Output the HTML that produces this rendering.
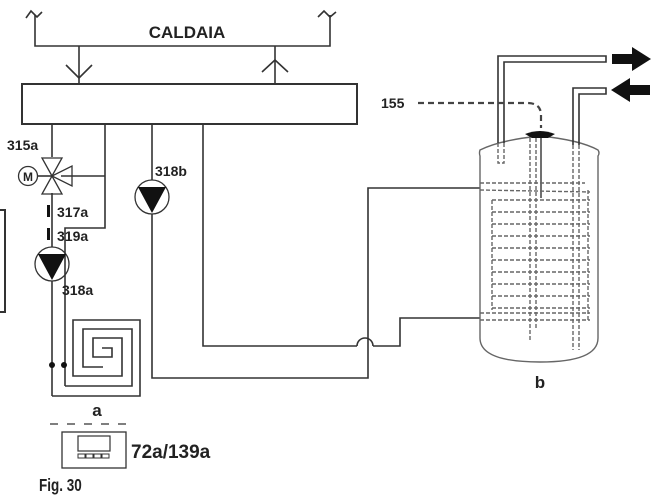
<!DOCTYPE html>
<html><head><meta charset="utf-8"><style>
html,body{margin:0;padding:0;background:#fff;}
svg{display:block;}
text{font-family:"Liberation Sans",sans-serif;font-weight:bold;fill:#222;}
</style></head><body>
<svg width="662" height="498" viewBox="0 0 662 498" xmlns="http://www.w3.org/2000/svg">
<g fill="none" stroke="#333" stroke-width="1.6">
<polyline points="26,18 31,11 37,17 42,12"/>
<polyline points="318,17 324,11 330,17 336,12"/>
<polyline points="35,15 35,46 330,46 330,15"/>
<line x1="79" y1="46" x2="79" y2="84"/>
<polyline points="66,65 79,78 92,65"/>
<line x1="275" y1="46" x2="275" y2="84"/>
<polyline points="262,72 275,60 288,72"/>
<rect x="22" y="84" width="335" height="40" stroke-width="2"/>
<line x1="52" y1="124" x2="52" y2="157"/>
<line x1="52" y1="193" x2="52" y2="247"/>
<line x1="52" y1="281" x2="52" y2="396"/>
<polyline points="105,124 105,228 65,228 65,386"/>
<line x1="61" y1="176" x2="105" y2="176"/>
<polyline points="52,396 140,396 140,320 73,320 73,376 122,376 122,338 93,338 93,357 112,357 112,348 102,348"/>
<polyline points="65,386 132,386 132,329 83,329 83,367 103,367"/>
<polygon points="42,158 62,158 52,176" stroke-width="1.3"/>
<polygon points="42,194 62,194 52,176" stroke-width="1.3"/>
<polygon points="72,166 72,186 52,176" stroke-width="1.3"/>
<circle cx="28" cy="176" r="9.5" stroke-width="1.3"/>
<line x1="37.5" y1="176" x2="52" y2="176"/>
<circle cx="52" cy="264" r="17" stroke-width="1.3"/>
<circle cx="152" cy="197" r="17" stroke-width="1.3"/>
<line x1="152" y1="124" x2="152" y2="180"/>
<polyline points="152,214 152,378 368,378 368,188 480,188"/>
<polyline points="203,124 203,346 357,346"/>
<path d="M357,346 A8,8 0 0 1 373,346"/>
<polyline points="373,346 400,346 400,318 480,318"/>
<polyline points="0,210 5,210 5,312 0,312" stroke-width="2"/>
<path d="M480,150 Q500,140 540,136 Q580,140 598,150 Q600,153 598,156 L598,338 Q598,362 540,362 Q480,362 480,338 L480,156 Q479,153 480,150 Z" stroke="#666" stroke-width="1.4"/>
<polyline points="498,143 498,56 606,56 606,62 504,62 504,143"/>
<polyline points="573,145 573,88 606,88 606,94 579,94 579,145"/>
<rect x="62" y="432" width="64" height="36" stroke-width="1.3"/>
<rect x="78" y="436" width="32" height="15" stroke-width="1.2"/>
<rect x="78" y="454" width="7" height="4" stroke-width="1"/>
<rect x="86" y="454" width="7" height="4" stroke-width="1"/>
<rect x="94" y="454" width="7" height="4" stroke-width="1"/>
<rect x="102" y="454" width="7" height="4" stroke-width="1"/>
</g>
<g fill="#111">
<polygon points="38,254 66,254 52,280"/>
<polygon points="138,187 166,187 152,213"/>
<circle cx="52" cy="365" r="3"/>
<circle cx="64" cy="365" r="3"/>
<rect x="47" y="205" width="3" height="12"/>
<rect x="47" y="228" width="3" height="12"/>
<polygon points="612,54 632,54 632,47 651,59 632,71 632,64 612,64"/>
<polygon points="650,85 630,85 630,78 611,90 630,102 630,95 650,95"/>
<path d="M525,134 Q540,128 555,134 L548,138 L532,138 Z"/>
</g>
<g fill="none" stroke="#666" stroke-width="1.4" stroke-dasharray="4,2">
<polyline points="498,143 498,163 504,163 504,143"/>
<line x1="530" y1="138" x2="530" y2="340"/>
<line x1="536" y1="138" x2="536" y2="330"/>
<line x1="541" y1="138" x2="541" y2="198" stroke="#333" stroke-dasharray="none"/>
<line x1="573" y1="145" x2="573" y2="350"/>
<line x1="579" y1="145" x2="579" y2="350"/>
<line x1="480" y1="183" x2="585" y2="183"/>
<line x1="480" y1="190" x2="590" y2="192"/>
<line x1="492" y1="200" x2="590" y2="200"/>
<line x1="492" y1="212" x2="590" y2="212"/>
<line x1="492" y1="224" x2="590" y2="224"/>
<line x1="492" y1="236" x2="590" y2="236"/>
<line x1="492" y1="248" x2="590" y2="248"/>
<line x1="492" y1="260" x2="590" y2="260"/>
<line x1="492" y1="272" x2="590" y2="272"/>
<line x1="492" y1="284" x2="590" y2="284"/>
<line x1="492" y1="296" x2="590" y2="296"/>
<line x1="492" y1="308" x2="590" y2="308"/>
<line x1="480" y1="313" x2="590" y2="313"/>
<line x1="480" y1="320" x2="590" y2="320"/>
<line x1="492" y1="200" x2="492" y2="310"/>
<line x1="588" y1="190" x2="588" y2="320"/>
</g>
<path d="M418,103 L527,103 Q541,103 541,115 L541,128" fill="none" stroke="#444" stroke-width="2.2" stroke-dasharray="6,4"/>
<line x1="50" y1="424" x2="132" y2="424" stroke="#555" stroke-width="1.4" stroke-dasharray="8,9"/>
<text x="187" y="38" font-size="17" text-anchor="middle">CALDAIA</text>
<text x="7" y="150" font-size="14">315a</text>
<text x="28" y="181" font-size="12" text-anchor="middle">M</text>
<text x="57" y="217" font-size="14">317a</text>
<text x="57" y="241" font-size="14">319a</text>
<text x="62" y="295" font-size="14">318a</text>
<text x="155" y="176" font-size="14">318b</text>
<text x="381" y="108" font-size="14">155</text>
<text x="540" y="388" font-size="17" text-anchor="middle">b</text>
<text x="97" y="416" font-size="17" text-anchor="middle">a</text>
<text x="131" y="458" font-size="19">72a/139a</text>
<text x="39" y="491" font-size="18" transform="translate(39,0) scale(0.75,1) translate(-39,0)">Fig. 30</text>
</svg>
</body></html>
